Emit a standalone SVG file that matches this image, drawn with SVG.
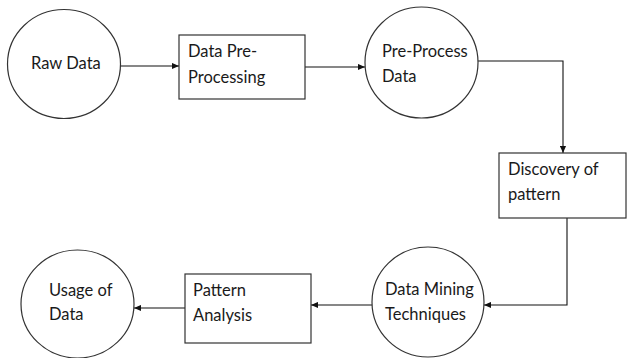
<svg xmlns="http://www.w3.org/2000/svg" width="630" height="358" viewBox="0 0 630 358">
<style>
.shape{fill:#fff;stroke:#333;stroke-width:1.2}
.lbl{font-family:Lato,"Liberation Sans",Arial,sans-serif;font-size:16.5px;fill:#1a1a1a}
.conn{fill:none;stroke:#111;stroke-width:1.1}
</style>
<defs>
<marker id="ah" viewBox="0 0 8 8" refX="8" refY="4" markerWidth="7" markerHeight="7" markerUnits="userSpaceOnUse" orient="auto">
<path d="M0,0.5 L8,4 L0,7.5 Z" fill="#111"/>
</marker>
</defs>
<rect width="630" height="358" fill="#fff"/>
<g id="connectors">
<path class="conn" d="M121,66 H179" marker-end="url(#ah)"/>
<path class="conn" d="M305,67 H365" marker-end="url(#ah)"/>
<path class="conn" d="M478,61 H563 V153" marker-end="url(#ah)"/>
<path class="conn" d="M567,218 V305 H484" marker-end="url(#ah)"/>
<path class="conn" d="M372,305 H311" marker-end="url(#ah)"/>
<path class="conn" d="M185,308 H134" marker-end="url(#ah)"/>
</g>
<g id="raw-data">
<ellipse class="shape" cx="64" cy="64" rx="56.5" ry="54.5"/>
<text class="lbl" x="31" y="69">Raw Data</text>
</g>
<g id="data-pre-processing">
<rect class="shape" x="179" y="35" width="126" height="64"/>
<text class="lbl" x="188" y="57">Data Pre-</text>
<text class="lbl" x="188" y="83">Processing</text>
</g>
<g id="pre-process-data">
<ellipse class="shape" cx="421.5" cy="62.5" rx="56.5" ry="55.5"/>
<text class="lbl" x="382" y="57">Pre-Process</text>
<text class="lbl" x="382" y="82">Data</text>
</g>
<g id="discovery-of-pattern">
<rect class="shape" x="499" y="153" width="127" height="65"/>
<text class="lbl" x="508" y="175">Discovery of</text>
<text class="lbl" x="508" y="200">pattern</text>
</g>
<g id="data-mining-techniques">
<ellipse class="shape" cx="428" cy="302" rx="56" ry="55"/>
<text class="lbl" x="385" y="295">Data Mining</text>
<text class="lbl" x="385" y="320">Techniques</text>
</g>
<g id="pattern-analysis">
<rect class="shape" x="185" y="274" width="126" height="69"/>
<text class="lbl" x="193" y="296">Pattern</text>
<text class="lbl" x="193" y="321">Analysis</text>
</g>
<g id="usage-of-data">
<ellipse class="shape" cx="77.5" cy="304" rx="56.5" ry="54"/>
<text class="lbl" x="49" y="296">Usage of</text>
<text class="lbl" x="49" y="320">Data</text>
</g>
</svg>
